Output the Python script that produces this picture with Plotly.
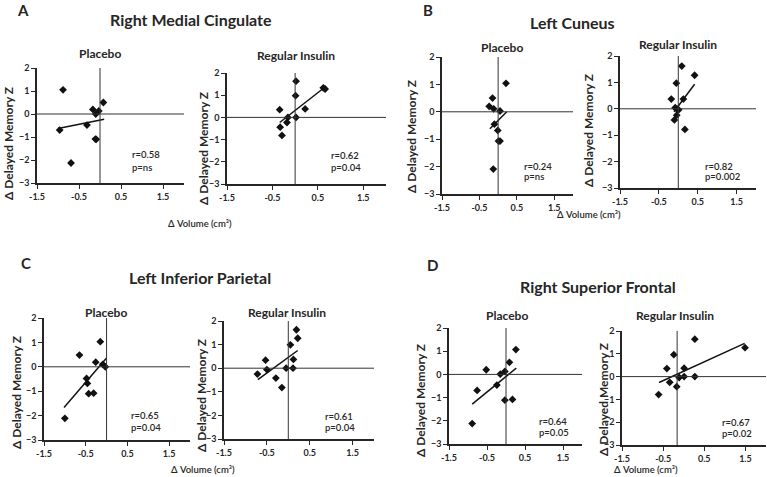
import plotly.graph_objects as go

W, H = 767, 477

# ---------------- data ----------------
# A: Right Medial Cingulate
a_pl_x = [-0.88, -0.17, -0.10, -0.03, 0.08, -0.31, -0.96, -0.11, -0.09, -0.69]
a_pl_y = [1.05, 0.20, 0.00, 0.13, 0.50, -0.48, -0.70, -1.09, -1.10, -2.13]
a_pl_fit_x = [-1.00, 0.10]
a_pl_fit_y = [-0.63, -0.23]

a_ri_x = [0.02, 0.01, 0.62, 0.66, -0.34, 0.22, -0.16, 0.02, -0.18, -0.33, -0.29]
a_ri_y = [1.63, 0.98, 1.33, 1.28, 0.35, 0.38, 0.00, 0.00, -0.23, -0.44, -0.81]
a_ri_fit_x = [-0.34, 0.66]
a_ri_fit_y = [-0.23, 1.37]

# B: Left Cuneus
b_pl_x = [0.21, -0.15, -0.24, -0.12, 0.05, -0.10, -0.01, 0.01, 0.05, -0.13]
b_pl_y = [1.04, 0.50, 0.20, 0.11, 0.03, -0.45, -0.68, -1.07, -1.07, -2.09]
b_pl_fit_x = [-0.22, 0.23]
b_pl_fit_y = [-0.62, 0.00]

b_ri_x = [0.09, 0.42, -0.05, -0.18, 0.13, -0.08, -0.03, 0.01, -0.04, -0.10, 0.17]
b_ri_y = [1.62, 1.27, 0.97, 0.37, 0.37, 0.04, -0.01, -0.04, -0.24, -0.42, -0.78]
b_ri_fit_x = [-0.11, 0.42]
b_ri_fit_y = [-0.11, 0.93]

# C: Left Inferior Parietal
c_pl_x = [-0.15, -0.65, -0.26, -0.09, -0.03, -0.48, -0.46, -0.43, -0.31, -1.00]
c_pl_y = [1.03, 0.48, 0.19, 0.10, 0.00, -0.48, -0.68, -1.10, -1.08, -2.11]
c_pl_fit_x = [-1.02, 0.00]
c_pl_fit_y = [-1.67, 0.36]

c_ri_x = [0.19, 0.22, 0.05, -0.53, 0.12, -0.50, -0.05, 0.11, -0.72, -0.29, -0.15]
c_ri_y = [1.63, 1.27, 0.99, 0.34, 0.37, -0.06, 0.00, 0.00, -0.25, -0.42, -0.82]
c_ri_fit_x = [-0.71, 0.22]
c_ri_fit_y = [-0.48, 0.75]

# D: Right Superior Frontal
d_pl_x = [0.26, 0.09, -0.52, -0.03, -0.15, -0.24, -0.76, -0.03, 0.17, -0.89]
d_pl_y = [1.07, 0.52, 0.20, 0.13, 0.01, -0.46, -0.69, -1.11, -1.08, -2.12]
d_pl_fit_x = [-0.89, 0.27]
d_pl_fit_y = [-1.28, 0.27]

d_ri_x = [0.27, 1.49, -0.24, -0.41, 0.01, -0.11, 0.01, 0.27, -0.34, -0.17, -0.61]
d_ri_y = [1.64, 1.27, 0.96, 0.35, 0.37, -0.04, 0.00, 0.00, -0.25, -0.44, -0.79]
d_ri_fit_x = [-0.60, 1.48]
d_ri_fit_y = [-0.26, 1.46]

r_labels = ["r=0.58", "r=0.62", "r=0.24", "r=0.82", "r=0.65", "r=0.61", "r=0.64", "r=0.67"]
p_labels = ["p=ns", "p=0.04", "p=ns", "p=0.002", "p=0.04", "p=0.04", "p=0.05", "p=0.02"]
group_labels = ["Placebo", "Regular Insulin"] * 4
region_titles = ["Right Medial Cingulate", "Left Cuneus", "Left Inferior Parietal", "Right Superior Frontal"]
panel_letters = ["A", "B", "C", "D"]
x_ticks = [-1.5, -0.5, 0.5, 1.5]
y_ticks = [-3, -2, -1, 0, 1, 2]
x_title = "\u0394 Volume (cm\u00b3)"
y_title = "\u0394 Delayed Memory Z"

series = [
    (a_pl_x, a_pl_y, a_pl_fit_x, a_pl_fit_y),
    (a_ri_x, a_ri_y, a_ri_fit_x, a_ri_fit_y),
    (b_pl_x, b_pl_y, b_pl_fit_x, b_pl_fit_y),
    (b_ri_x, b_ri_y, b_ri_fit_x, b_ri_fit_y),
    (c_pl_x, c_pl_y, c_pl_fit_x, c_pl_fit_y),
    (c_ri_x, c_ri_y, c_ri_fit_x, c_ri_fit_y),
    (d_pl_x, d_pl_y, d_pl_fit_x, d_pl_fit_y),
    (d_ri_x, d_ri_y, d_ri_fit_x, d_ri_fit_y),
]

# ---------------- layout geometry (pixels) ----------------
# left px (x=-1.5), right px (x=2), top px (y=2), bottom px (y=-3), vertical ref line x
geom = [
    (37, 184, 68, 183, 0.0),
    (227, 386, 73, 184, 0.0),
    (442, 573, 57, 194, 0.0),
    (620, 756, 56, 188, 0.0),
    (44, 190, 318, 440, 0.0),
    (224, 374, 321, 439, 0.0),
    (449, 582, 328, 444, 0.0),
    (622, 766, 331, 445, -0.16),
]
sub_title_pos = [(100, 54), (296, 55), (502, 48), (678, 45),
                 (106, 312), (287, 312), (507, 315), (675, 315)]
ytitle_pos = [(9, 144), (203, 148), (411, 137), (588, 131),
              (16, 393), (201, 395), (420, 401), (603, 400)]
rp_pos = [(130, 154, 167), (329, 155, 168), (522, 166, 177), (703, 166, 177),
          (129, 415, 427), (323, 416, 427), (537, 421, 432), (720, 422, 433)]
region_pos = [(191, 20), (572, 22), (200, 277), (598, 286)]
letter_pos = [(23, 10), (428, 10), (26, 263), (433, 265)]
xtitle_pos = [(200, 223), (589, 214), (203, 469), (646, 469)]

TXT = "#262626"
LINE = "#262626"
FONT = "Lato"

def px(x):
    return x / W

def py(y):
    return 1 - y / H

fig = go.Figure()
layout = dict(
    template="none",
    width=W, height=H, autosize=False,
    margin=dict(l=0, r=0, t=0, b=0, pad=0, autoexpand=False),
    paper_bgcolor="white", plot_bgcolor="white",
    showlegend=False,
    font=dict(family=FONT, color=TXT),
)
shapes = []
annotations = []

for i, ((sx, sy, fx, fy), (l, r, t, b, vx)) in enumerate(zip(series, geom)):
    k = i + 1
    xa = "x" if k == 1 else f"x{k}"
    ya = "y" if k == 1 else f"y{k}"
    fig.add_trace(go.Scatter(x=fx, y=fy, mode="lines", xaxis=xa, yaxis=ya,
                             line=dict(color="#111111", width=1.5), hoverinfo="skip"))
    fig.add_trace(go.Scatter(x=sx, y=sy, mode="markers", xaxis=xa, yaxis=ya,
                             marker=dict(symbol="diamond", size=6, color="#111111",
                                         line=dict(width=0))))
    axcommon = dict(showgrid=False, zeroline=False, showline=True, linecolor=LINE,
                    linewidth=1.5, ticks="outside", ticklen=4, tickwidth=1,
                    tickcolor=LINE, fixedrange=True, automargin=False,
                    tickfont=dict(family=FONT, size=9, color=TXT, weight="bold"))
    layout["xaxis" if k == 1 else f"xaxis{k}"] = dict(
        axcommon, domain=[px(l), px(r)], range=[-1.5, 2.0], anchor=ya,
        tickvals=x_ticks, ticktext=[f"{v:.1f}" for v in x_ticks])
    layout["yaxis" if k == 1 else f"yaxis{k}"] = dict(
        axcommon, domain=[py(b), py(t)], range=[-3, 2], anchor=xa,
        tickvals=y_ticks)
    shapes.append(dict(type="line", xref=xa, yref=ya, x0=-1.5, x1=2.0, y0=0, y1=0,
                       line=dict(color="#333333", width=1)))
    shapes.append(dict(type="line", xref=xa, yref=ya, x0=vx, x1=vx, y0=-3, y1=2,
                       line=dict(color="#333333", width=1)))
    # subplot title
    sxp, syp = sub_title_pos[i]
    annotations.append(dict(text=group_labels[i], x=px(sxp), y=py(syp), xref="paper", yref="paper",
                            showarrow=False, xanchor="center", yanchor="middle",
                            font=dict(size=12, color=TXT, weight="bold")))
    # y title
    yxp, yyp = ytitle_pos[i]
    annotations.append(dict(text=y_title, x=px(yxp), y=py(yyp), xref="paper", yref="paper",
                            showarrow=False, xanchor="center", yanchor="middle", textangle=-90,
                            font=dict(size=12, color=TXT, weight="bold")))
    # r / p
    rx, ry, pyy = rp_pos[i]
    annotations.append(dict(text=r_labels[i], x=px(rx), y=py(ry), xref="paper", yref="paper",
                            showarrow=False, xanchor="left", yanchor="middle",
                            font=dict(size=9.5, color=TXT, weight=600)))
    annotations.append(dict(text=p_labels[i], x=px(rx), y=py(pyy), xref="paper", yref="paper",
                            showarrow=False, xanchor="left", yanchor="middle",
                            font=dict(size=9.5, color=TXT, weight=600)))

for j in range(4):
    rxp, ryp = region_pos[j]
    annotations.append(dict(text=region_titles[j], x=px(rxp), y=py(ryp), xref="paper", yref="paper",
                            showarrow=False, xanchor="center", yanchor="middle",
                            font=dict(size=16, color=TXT, weight="bold")))
    lxp, lyp = letter_pos[j]
    annotations.append(dict(text=panel_letters[j], x=px(lxp), y=py(lyp), xref="paper", yref="paper",
                            showarrow=False, xanchor="center", yanchor="middle",
                            font=dict(size=15, color=TXT, weight="bold")))
    txp, typ = xtitle_pos[j]
    annotations.append(dict(text=x_title, x=px(txp), y=py(typ), xref="paper", yref="paper",
                            showarrow=False, xanchor="center", yanchor="middle",
                            font=dict(size=9.5, color=TXT, weight=600)))

layout["shapes"] = shapes
layout["annotations"] = annotations
fig.update_layout(**layout)
fig.write_html(
    "out.html",
    config={"displayModeBar": False},
    post_script="document.body.style.margin='0';document.body.style.padding='0';"
                "document.body.style.overflow='hidden';",
)
